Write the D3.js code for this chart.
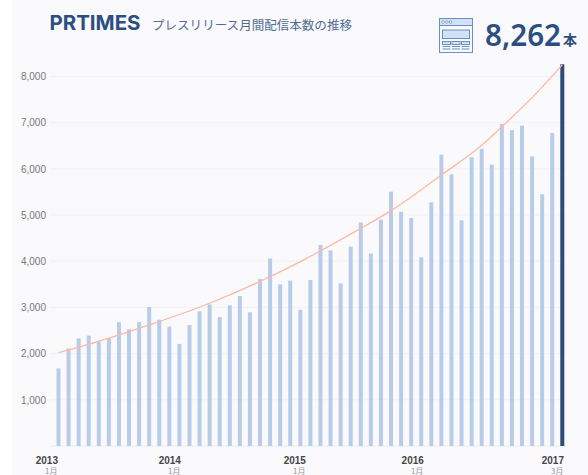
<!DOCTYPE html>
<html lang="ja">
<head>
    <meta charset="UTF-8"/>
    <title>PR TIMES</title>
    <script src="https://d3js.org/d3.v7.min.js"></script>
    <style>
        html, body { margin: 0; padding: 0; background: #fff; }
        svg { display: block; }
    </style>
</head>
<body>
<div id="chart"></div>
<script>
    // monthly press releases, Jan 2013 - Mar 2017
    var monthly = [1680, 2110, 2330, 2390, 2260, 2330, 2680, 2525, 2680, 3010, 2735, 2585,
        2210, 2620, 2915, 3065, 2790, 3045, 3245, 2895, 3615, 4060, 3500, 3580,
        2950, 3595, 4350, 4235, 3520, 4315, 4840, 4165, 4900, 5505, 5070, 4935,
        4085, 5275, 6305, 5880, 4885, 6250, 6430, 6090, 6970, 6835, 6935, 6270,
        5450, 6775, 8262];

    // trend line read at a handful of months
    var trendMonths = [0, 3, 9, 15, 21, 24, 26, 30, 33, 38, 42, 44, 47, 50];
    var trendValues = [2020, 2200, 2620, 3090, 3665, 3990, 4225, 4710, 5095, 5865, 6510, 6910, 7540, 8250];

    var yTicks = [1000, 2000, 3000, 4000, 5000, 6000, 7000, 8000];
    var xYears = ["2013", "2014", "2015", "2016", "2017"];
    var xMonthIdx = [0, 12, 24, 36, 50];
    var xMonthNames = ["1月", "1月", "1月", "1月", "3月"];

    var width = 588, height = 475;
    var navy = "#2c4f80";

    var svg = d3.select("#chart").append("svg")
        .attr("width", width)
        .attr("height", height)
        .style("font-family", "'Noto Sans CJK JP', 'Noto Sans', sans-serif");

    svg.append("rect")
        .attr("x", 12).attr("y", 0)
        .attr("width", width - 12).attr("height", height)
        .attr("fill", "#fafafd");

    var x = d3.scaleLinear().domain([0, 50]).range([58.5, 562.3]);
    var y = d3.scaleLinear().domain([0, 8000]).range([446, 76.4]);

    // grid + y labels
    var yAxis = d3.axisLeft(y).tickValues(yTicks).tickSize(0).tickPadding(0)
        .tickFormat(d3.format(","));
    var yG = svg.append("g").attr("transform", "translate(46,0)").call(yAxis);
    yG.select(".domain").remove();
    yG.selectAll("text")
        .attr("font-size", 10)
        .attr("font-family", "'Liberation Sans', sans-serif")
        .attr("fill", "#777");

    svg.append("g").selectAll("line")
        .data([0].concat(yTicks))
        .enter().append("line")
        .attr("x1", 50).attr("x2", 566)
        .attr("y1", function (d) { return y(d); })
        .attr("y2", function (d) { return y(d); })
        .attr("stroke", function (d) { return d === 0 ? "#e9e9ee" : "#f1f1f5"; })
        .attr("stroke-width", 1);

    // bars
    svg.append("g").selectAll("rect")
        .data(monthly)
        .enter().append("rect")
        .attr("x", function (d, i) { return x(i) - 2; })
        .attr("y", function (d) { return y(d); })
        .attr("width", 4)
        .attr("height", function (d) { return y(0) - y(d); })
        .attr("fill", function (d, i) { return i === 50 ? "#2c4a7a" : "#b8cce9"; });

    // trend
    var trendLine = d3.line()
        .x(function (d) { return x(d[0]); })
        .y(function (d) { return y(d[1]); })
        .curve(d3.curveMonotoneX);

    svg.append("path")
        .datum(d3.zip(trendMonths, trendValues))
        .attr("d", trendLine)
        .attr("fill", "none")
        .attr("stroke", "#fdb9a3")
        .attr("stroke-width", 1.3);

    // x labels, right edge sits a little off the bar in the original
    var labelNudge = [-0.5, 1.5, 5.6, 2.6, 1.7];
    var xG = svg.append("g").selectAll("g")
        .data(xYears)
        .enter().append("g");
    xG.append("text")
        .attr("x", function (d, i) { return x(xMonthIdx[i]) + labelNudge[i]; })
        .attr("y", 464)
        .attr("text-anchor", "end")
        .attr("font-size", 10)
        .attr("font-weight", 700)
        .attr("font-family", "'Liberation Sans', sans-serif")
        .attr("fill", "#444")
        .text(function (d) { return d; });
    xG.append("text")
        .attr("x", function (d, i) { return x(xMonthIdx[i]) + labelNudge[i] - 0.5; })
        .attr("y", 474)
        .attr("text-anchor", "end")
        .attr("font-size", 8)
        .attr("fill", "#999")
        .text(function (d, i) { return xMonthNames[i]; });

    // header
    svg.append("text")
        .attr("x", 49.5).attr("y", 29.5)
        .attr("font-family", "Inter, 'Liberation Sans', sans-serif")
        .attr("font-size", 20)
        .attr("font-weight", 700)
        .attr("fill", navy)
        .attr("textLength", 91)
        .attr("lengthAdjust", "spacingAndGlyphs")
        .text("PRTIMES");

    svg.append("text")
        .attr("x", 152).attr("y", 30)
        .attr("font-size", 12.5)
        .attr("fill", "#4f6c93")
        .attr("textLength", 200)
        .attr("lengthAdjust", "spacingAndGlyphs")
        .text("プレスリリース月間配信本数の推移");

    svg.append("text")
        .attr("x", 485).attr("y", 45.5)
        .attr("font-family", "'Noto Sans', sans-serif")
        .attr("font-size", 30)
        .attr("font-weight", 600)
        .attr("fill", navy)
        .attr("textLength", 76)
        .attr("lengthAdjust", "spacingAndGlyphs")
        .text("8,262");

    svg.append("text")
        .attr("x", 563).attr("y", 45)
        .attr("font-size", 14)
        .attr("font-weight", 700)
        .attr("fill", navy)
        .text("本");

    // window icon
    var icon = svg.append("g").attr("transform", "translate(439,18)")
        .attr("stroke", "#6d8fb8").attr("stroke-width", 1);
    icon.append("rect").attr("x", 0.5).attr("y", 0.5).attr("width", 33).attr("height", 34).attr("fill", "#f6f9fd");
    icon.append("rect").attr("x", 0.5).attr("y", 0.5).attr("width", 33).attr("height", 7).attr("fill", "#cfe2f8");
    icon.selectAll("circle").data([0, 1, 2]).enter().append("circle")
        .attr("cx", function (d) { return 4 + d * 3.8; })
        .attr("cy", 4)
        .attr("r", 1.3)
        .attr("fill", "#fff")
        .attr("stroke-width", 0.7);
    icon.append("rect").attr("x", 3.5).attr("y", 12).attr("width", 27).attr("height", 8.5).attr("fill", "#cfe2f8");
    [0, 1, 2].forEach(function (col) {
        var cx = 3.5 + col * 9.5;
        icon.append("rect").attr("x", cx).attr("y", 23.5).attr("width", 8).attr("height", 3).attr("fill", "#cfe2f8");
        [28.5, 31].forEach(function (ly) {
            icon.append("line").attr("x1", cx).attr("x2", cx + 8).attr("y1", ly).attr("y2", ly);
        });
    });
</script>
</body>
</html>
